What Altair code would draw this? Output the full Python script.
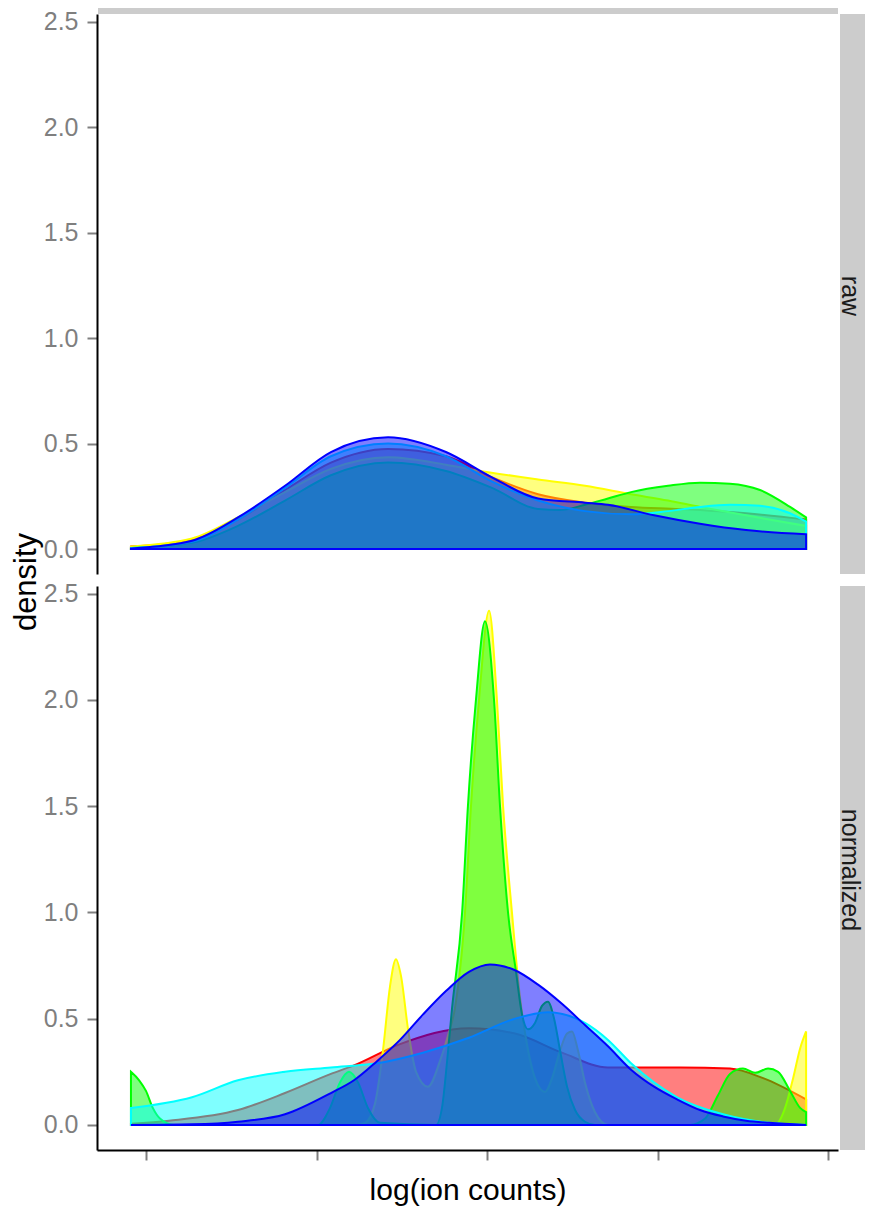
import altair as alt
import pandas as pd

SERIES = ["red", "yellow", "green", "cyan", "blue"]
COLORS = ["#FF0000", "#FFFF00", "#00FF00", "#00FFFF", "#0000FF"]
PANELS = ["raw", "normalized"]
Y_TICKS = [0.0, 0.5, 1.0, 1.5, 2.0, 2.5]
X_TICKS = [0, 1, 2, 3, 4]

# ---- raw panel ----
RAW_RED_X = [-0.088, 0.270, 0.539, 0.815, 1.084, 1.419, 1.758, 2.028, 2.298, 2.573, 2.843, 3.130, 3.517, 3.869]
RAW_RED_Y = [0.012, 0.045, 0.14, 0.28, 0.41, 0.475, 0.44, 0.34, 0.26, 0.22, 0.20, 0.19, 0.17, 0.14]

RAW_YELLOW_X = [-0.088, 0.270, 0.539, 0.815, 1.084, 1.419, 1.758, 1.893, 2.298, 2.573, 2.843, 3.060, 3.247, 3.517, 3.869]
RAW_YELLOW_Y = [0.012, 0.05, 0.15, 0.27, 0.38, 0.435, 0.40, 0.38, 0.33, 0.30, 0.26, 0.23, 0.20, 0.16, 0.11]

RAW_GREEN_X = [-0.088, 0.270, 0.539, 0.815, 1.084, 1.419, 1.758, 2.028, 2.298, 2.427, 2.573, 2.708, 2.843, 3.060, 3.247, 3.423, 3.599, 3.775, 3.869]
RAW_GREEN_Y = [0.005, 0.03, 0.11, 0.23, 0.35, 0.41, 0.37, 0.29, 0.19, 0.185, 0.21, 0.24, 0.27, 0.30, 0.315, 0.31, 0.28, 0.20, 0.15]

RAW_CYAN_X = [-0.088, 0.270, 0.539, 0.815, 1.084, 1.419, 1.758, 2.028, 2.298, 2.573, 2.843, 3.060, 3.247, 3.423, 3.599, 3.775, 3.869]
RAW_CYAN_Y = [0.005, 0.035, 0.14, 0.29, 0.44, 0.50, 0.44, 0.32, 0.23, 0.18, 0.165, 0.18, 0.20, 0.21, 0.205, 0.17, 0.13]

RAW_BLUE_X = [-0.088, 0.270, 0.539, 0.815, 1.084, 1.419, 1.758, 2.028, 2.298, 2.573, 2.708, 2.978, 3.247, 3.517, 3.869]
RAW_BLUE_Y = [0.003, 0.04, 0.15, 0.30, 0.46, 0.53, 0.46, 0.34, 0.24, 0.22, 0.21, 0.16, 0.12, 0.09, 0.07]

# ---- normalized panel ----
NORM_RED_X = [-0.088, 0.135, 0.539, 0.815, 1.084, 1.219, 1.489, 1.893, 2.163, 2.438, 2.708, 2.978, 3.130, 3.423, 3.617, 3.869]
NORM_RED_Y = [0.005, 0.02, 0.07, 0.15, 0.24, 0.28, 0.38, 0.455, 0.43, 0.34, 0.27, 0.27, 0.27, 0.265, 0.22, 0.12]

NORM_YELLOW_X = [-0.088, 1.230, 1.284, 1.342, 1.389, 1.430, 1.465, 1.495, 1.536, 1.583, 1.653, 1.723, 1.770, 1.811,
                 1.870, 1.905, 1.952, 2.011, 2.057, 2.093, 2.145, 2.192, 2.233, 2.280, 2.339, 2.380, 2.427, 2.468,
                 2.497, 2.532, 2.573, 2.632, 2.708, 3.687, 3.746, 3.793, 3.834, 3.869]
NORM_YELLOW_Y = [0.0, 0.0, 0.01, 0.10, 0.35, 0.65, 0.78, 0.70, 0.45, 0.25, 0.18, 0.30, 0.42, 0.55,
                 1.00, 1.50, 2.00, 2.42, 2.00, 1.50, 1.00, 0.60, 0.38, 0.22, 0.155, 0.22, 0.35, 0.43,
                 0.44, 0.35, 0.20, 0.06, 0.0, 0.0, 0.08, 0.22, 0.36, 0.44]

NORM_GREEN_X = [-0.088, -0.040, 0.0, 0.040, 0.082, 0.164, 1.008, 1.079, 1.137, 1.190, 1.243, 1.301, 1.372, 1.700,
                1.735, 1.765, 1.794, 1.853, 1.887, 1.934, 1.987, 2.040, 2.075, 2.122, 2.169, 2.204, 2.239, 2.280,
                2.321, 2.356, 2.392, 2.427, 2.468, 2.515, 2.573, 2.632, 3.189, 3.277, 3.353, 3.423, 3.499, 3.570,
                3.646, 3.705, 3.775, 3.834, 3.869]
NORM_GREEN_Y = [0.25, 0.21, 0.16, 0.08, 0.03, 0.0, 0.0, 0.08, 0.20, 0.25, 0.20, 0.08, 0.01, 0.0,
                0.08, 0.30, 0.55, 1.00, 1.50, 2.00, 2.37, 2.00, 1.50, 1.00, 0.72, 0.52, 0.45, 0.48,
                0.56, 0.58, 0.50, 0.35, 0.18, 0.07, 0.015, 0.0, 0.0, 0.03, 0.14, 0.24, 0.265, 0.245,
                0.265, 0.25, 0.16, 0.08, 0.06]

NORM_CYAN_X = [-0.088, 0.270, 0.539, 0.815, 1.084, 1.354, 1.624, 1.893, 2.163, 2.356, 2.573, 2.708, 2.843, 3.113, 3.382, 3.652, 3.869]
NORM_CYAN_Y = [0.08, 0.13, 0.21, 0.25, 0.27, 0.29, 0.34, 0.41, 0.50, 0.53, 0.48, 0.40, 0.29, 0.13, 0.05, 0.01, 0.0]

NORM_BLUE_X = [-0.088, 0.270, 0.539, 0.815, 1.084, 1.219, 1.354, 1.489, 1.624, 1.758, 1.893, 2.016, 2.157, 2.298,
               2.438, 2.573, 2.708, 2.843, 2.978, 3.113, 3.247, 3.382, 3.517, 3.652, 3.869]
NORM_BLUE_Y = [0.0, 0.003, 0.015, 0.05, 0.15, 0.21, 0.30, 0.40, 0.52, 0.63, 0.72, 0.755, 0.73, 0.66,
               0.57, 0.47, 0.37, 0.26, 0.18, 0.12, 0.07, 0.04, 0.02, 0.01, 0.0]

DATA = {
    "raw": [(RAW_RED_X, RAW_RED_Y), (RAW_YELLOW_X, RAW_YELLOW_Y), (RAW_GREEN_X, RAW_GREEN_Y),
            (RAW_CYAN_X, RAW_CYAN_Y), (RAW_BLUE_X, RAW_BLUE_Y)],
    "normalized": [(NORM_RED_X, NORM_RED_Y), (NORM_YELLOW_X, NORM_YELLOW_Y), (NORM_GREEN_X, NORM_GREEN_Y),
                   (NORM_CYAN_X, NORM_CYAN_Y), (NORM_BLUE_X, NORM_BLUE_Y)],
}

FONT = "Liberation Sans"
W = 741
XDOM = [-0.287, 4.056]
YDOM = [-0.118, 2.536]

one = pd.DataFrame({"a": [0]})


def panel(name, bottom, h):
    xscale = alt.Scale(domain=XDOM, nice=False, zero=False)
    yscale = alt.Scale(domain=YDOM, nice=False, zero=False)
    if bottom:
        xaxis = alt.Axis(values=X_TICKS, labels=False, title=None, grid=False,
                         domainColor="#000000", domainWidth=2, tickColor="#7F7F7F",
                         tickWidth=2, tickSize=10)
    else:
        xaxis = None
    yaxis = alt.Axis(values=Y_TICKS, format=".1f", title=None, grid=False,
                     labelFont=FONT, labelFontSize=25, labelColor="#7F7F7F",
                     labelPadding=9, domainColor="#000000", domainWidth=2,
                     tickColor="#7F7F7F", tickWidth=2, tickSize=10)
    layers = []
    for s, c, (xs, ys) in zip(SERIES, COLORS, DATA[name]):
        df = pd.DataFrame({"x": xs, "density": ys, "series": s})
        layers.append(
            alt.Chart(df).mark_area(color=c, fill=c, fillOpacity=0.5, stroke=c,
                                    strokeWidth=2, interpolate="monotone")
            .encode(x=alt.X("x:Q", scale=xscale, axis=xaxis),
                    y=alt.Y("density:Q", scale=yscale, axis=yaxis),
                    y2=alt.datum(0))
        )
    # facet strip on the right
    layers.append(
        alt.Chart(one).mark_rect(color="#CCCCCC")
        .encode(x=alt.value(743), x2=alt.value(768), y=alt.value(0), y2=alt.value(h))
    )
    layers.append(
        alt.Chart(one).mark_text(angle=90, align="center", baseline="middle",
                                 font=FONT, fontSize=25, color="#1A1A1A")
        .encode(x=alt.value(753), y=alt.value(h / 2 + 2), text=alt.value(name))
    )
    if not bottom:
        # top strip (mostly cut off) and shared y title
        layers.append(
            alt.Chart(one).mark_rect(color="#CCCCCC")
            .encode(x=alt.value(1), x2=alt.value(741), y=alt.value(-6), y2=alt.value(0))
        )
        layers.append(
            alt.Chart(one).mark_rect(opacity=0)
            .encode(x=alt.value(-89), x2=alt.value(-88), y=alt.value(0), y2=alt.value(1))
        )
        layers.append(
            alt.Chart(one).mark_text(angle=270, align="center", baseline="alphabetic",
                                     font=FONT, fontSize=31, color="#000000")
            .encode(x=alt.value(-61), y=alt.value(568), text=alt.value("density"))
        )
    else:
        layers.append(
            alt.Chart(one).mark_text(align="center", baseline="alphabetic",
                                     font=FONT, fontSize=30, color="#000000")
            .encode(x=alt.value(371), y=alt.value(614), text=alt.value("log(ion counts)"))
        )
    return alt.layer(*layers).properties(width=W, height=h)


chart = alt.vconcat(panel("raw", False, 560), panel("normalized", True, 564),
                    spacing=12, bounds="flush").properties(
    padding={"left": 0, "top": 0, "right": 0, "bottom": 0}
).configure_view(strokeWidth=0)

chart.save("out.html", embed_options={"renderer": "svg", "actions": False})
